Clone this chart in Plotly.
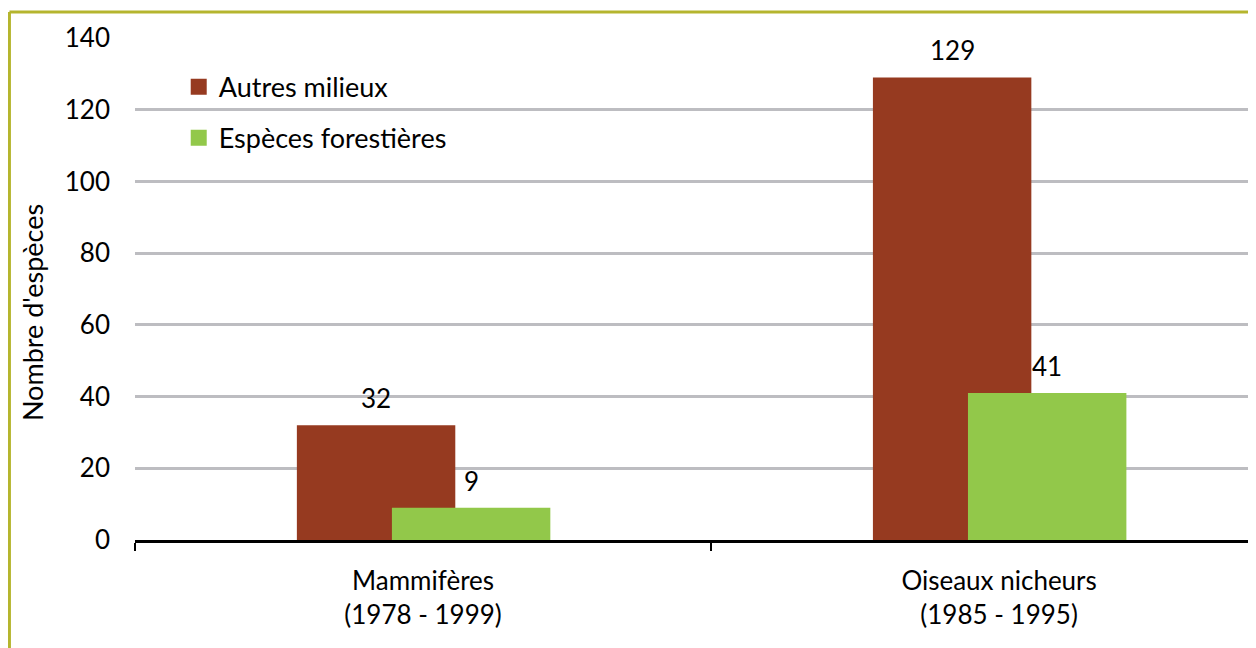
import plotly.graph_objects as go

categories = ["Mammifères<br>(1978 - 1999)", "Oiseaux nicheurs<br>(1985 - 1995)"]
autres_milieux = [32, 129]
especes_forestieres = [9, 41]
series_names = ["Autres milieux", "Espèces forestières"]
series_values = [autres_milieux, especes_forestieres]
colors = ["#963A20", "#92C84A"]
y_ticks = [0, 20, 40, 60, 80, 100, 120, 140]
y_title = "Nombre d'espèces"

BAR_W = 0.275
OFFSETS = [-0.219, -0.054]
FONT = "Lato, 'Open Sans', sans-serif"

fig = go.Figure()
for name, vals, col, off in zip(series_names, series_values, colors, OFFSETS):
    fig.add_trace(go.Bar(x=categories, y=vals, name=name, marker=dict(color=col, line=dict(width=0)),
                         offset=off, width=BAR_W, showlegend=False))
for i, (name, col) in enumerate(zip(series_names, colors)):
    fig.add_trace(go.Scatter(x=[None], y=[None], mode="markers", name=name, legendgroup=f"g{i}",
                             marker=dict(symbol="square", size=18, color=col)))

annotations = []
for vals, off in zip(series_values, OFFSETS):
    for i, v in enumerate(vals):
        annotations.append(dict(x=i + off + BAR_W / 2, y=v, xref="x", yref="y", text=str(v),
                                showarrow=False, yanchor="bottom", yshift=9,
                                font=dict(size=26, color="black", family=FONT)))
annotations.append(dict(x=-0.0919, y=0.454, xref="paper", yref="paper", text=y_title, textangle=-90,
                        xanchor="center", yanchor="middle",
                        showarrow=False, font=dict(size=27, color="black", family=FONT)))

border = "#B5B52E"
shapes = [
    dict(type="line", xref="paper", yref="paper", x0=-0.112, x1=1.01, y0=1.0518, y1=1.0518,
         line=dict(color=border, width=3)),
    dict(type="line", xref="paper", yref="paper", x0=-0.112, x1=-0.112, y0=1.0518, y1=-0.3,
         line=dict(color=border, width=3)),
]

fig.update_layout(
    width=1248, height=640,
    margin=dict(l=127, r=0, t=30, b=108),
    paper_bgcolor="white", plot_bgcolor="white",
    barmode="overlay",
    font=dict(family=FONT, size=26, color="black"),
    legend=dict(x=0.039, y=0.951, xanchor="left", yanchor="top", tracegroupgap=13,
                font=dict(size=27, family=FONT), bgcolor="rgba(0,0,0,0)"),
    annotations=annotations,
    shapes=shapes,
    xaxis=dict(range=[-0.5, 1.446], showline=True, linecolor="black", linewidth=2.5,
               ticks="outside", tickson="boundaries", ticklen=8, tickwidth=2, tickcolor="black",
               tickfont=dict(size=26, family=FONT), ticklabelstandoff=16, showgrid=False),
    yaxis=dict(range=[0, 140], tickvals=y_ticks, showgrid=True, gridcolor="#BDBDC1", gridwidth=2.5,
               zeroline=False, showline=False, ticks="", tickfont=dict(size=26, family=FONT),
               ticklabelstandoff=24),
)

fig.write_html("out.html")
